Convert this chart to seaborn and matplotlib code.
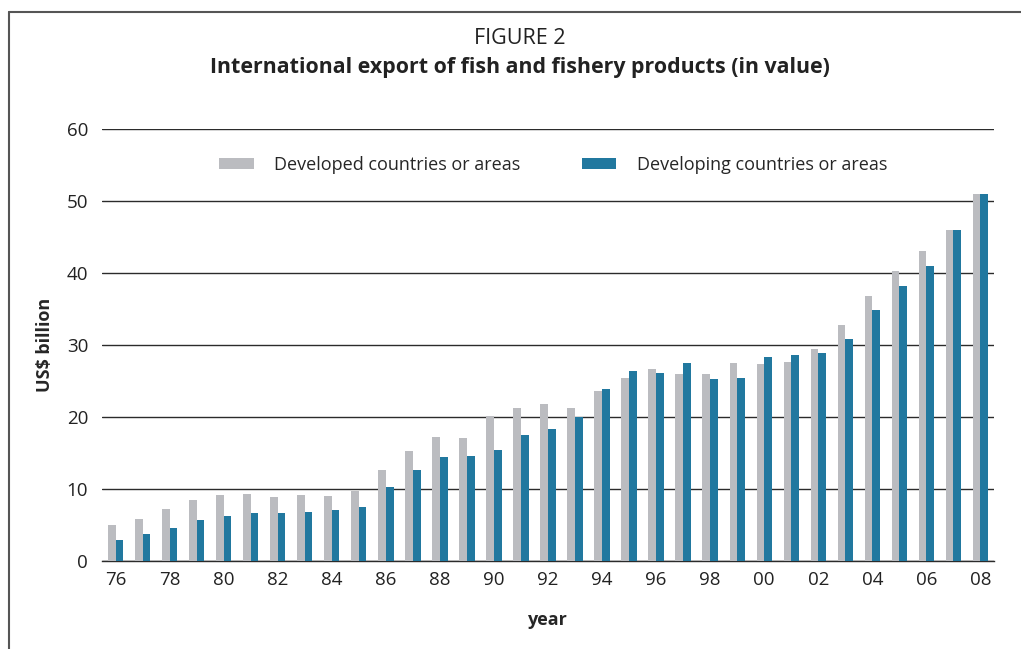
import pandas as pd
import numpy as np
import matplotlib
import matplotlib.pyplot as plt
from matplotlib.lines import Line2D
import seaborn as sns

sns.set_style("white")
plt.rcParams["font.family"] = ["Open Sans", "DejaVu Sans"]

years = [f"{y % 100:02d}" for y in range(1976, 2009)]
developed = [5.0, 5.9, 7.2, 8.5, 9.2, 9.35, 8.85, 9.1, 9.05, 9.7, 12.6,
             15.3, 17.2, 17.1, 20.1, 21.2, 21.8, 21.2, 23.6, 25.4, 26.6,
             26.0, 26.0, 27.5, 27.3, 27.7, 29.5, 32.8, 36.8, 40.3, 43.0,
             46.0, 51.0]
developing = [2.9, 3.7, 4.6, 5.7, 6.2, 6.65, 6.65, 6.75, 7.1, 7.5, 10.3,
              12.6, 14.5, 14.6, 15.4, 17.5, 18.4, 20.0, 23.85, 26.35, 26.1,
              27.5, 25.3, 25.45, 28.3, 28.65, 28.85, 30.9, 34.8, 38.2, 41.0,
              46.0, 51.0]
series = ["Developed countries or areas", "Developing countries or areas"]

df = pd.DataFrame({
    "year": years * 2,
    "value": developed + developing,
    "group": [series[0]] * len(years) + [series[1]] * len(years),
})

palette = {series[0]: "#bbbcc0", series[1]: "#21789f"}

#%%
fig = plt.figure(figsize=(10.21, 6.49), dpi=100)
ax = fig.add_axes([102 / 1021, 1 - 561 / 649, 892 / 1021, 432 / 649])

sns.barplot(
    data=df,
    x="year",
    y="value",
    hue="group",
    palette=palette,
    saturation=1,
    width=0.57,
    linewidth=0,
    ax=ax,
    zorder=3,
)

ax.set_ylim(0, 60)
ax.set_xlim(-0.5, len(years) - 0.5)
ax.set_yticks(range(0, 61, 10))
ax.yaxis.grid(True, color="#2b2b2b", linewidth=1.0, zorder=0)
ax.set_axisbelow(True)
for s in ["top", "right", "left"]:
    ax.spines[s].set_visible(False)
ax.spines["bottom"].set_color("#2b2b2b")
ax.spines["bottom"].set_linewidth(1.0)

ax.set_xticks(range(len(years)))
ax.set_xticklabels([y if i % 2 == 0 else "" for i, y in enumerate(years)])
ax.set_xticks(np.arange(-0.5, len(years), 1.0), minor=True)
ax.tick_params(axis="x", which="major", length=0, pad=7, labelsize=13.5, colors="#222222")
ax.tick_params(axis="x", which="minor", length=4, width=1, color="#2b2b2b", direction="out")
ax.tick_params(axis="y", length=0, pad=10, labelsize=13.5, colors="#222222")

ax.set_xlabel("year", fontsize=13, fontweight="bold", labelpad=16)
ax.set_ylabel("US$ billion", fontsize=13, fontweight="bold", labelpad=9)

leg = ax.legend(
    loc="center",
    bbox_to_anchor=(0.506, 0.917),
    ncol=2,
    frameon=False,
    fontsize=13,
    handlelength=1.9,
    handleheight=0.6,
    handletextpad=1.15,
    columnspacing=3.4,
    title=None,
)

fig.text(520 / 1021, 1 - 38 / 649, "FIGURE 2", ha="center", va="center", fontsize=15.5, color="#222222")
fig.text(520 / 1021, 1 - 68 / 649, "International export of fish and fishery products (in value)",
         ha="center", va="center", fontsize=15.4, fontweight="bold", color="#222222")

fig.add_artist(Line2D([8.5 / 1021, 1], [1 - 12 / 649, 1 - 12 / 649], color="#555555", lw=1.5))
fig.add_artist(Line2D([8.5 / 1021, 8.5 / 1021], [0, 1 - 12 / 649], color="#555555", lw=1.5))

plt.savefig("out.png", dpi=100)
